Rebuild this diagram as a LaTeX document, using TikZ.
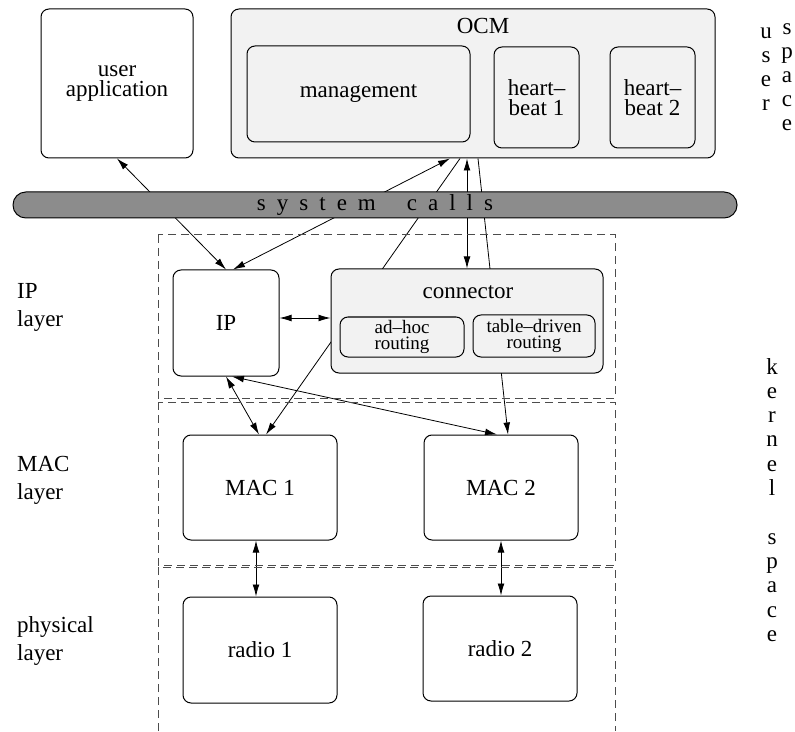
\documentclass[tikz,border=0pt]{standalone}
\usepackage{fontspec}
\setmainfont{Liberation Serif}
\usetikzlibrary{arrows.meta,backgrounds}
\definecolor{ocmgray}{gray}{0.95}
\definecolor{bargray}{gray}{0.55}
\tikzset{
  unit/.style={draw, rounded corners=4pt, inner sep=0pt, align=center, font=\fontsize{11.5}{10}\selectfont},
  subunit/.style={unit, fill=ocmgray, font=\fontsize{9.5}{8}\selectfont},
  layerbox/.style={draw=black!70, dash pattern=on 4pt off 2.5pt},
  side/.style={anchor=west, align=left, font=\fontsize{11.5}{14}\selectfont},
  letter/.style={anchor=base, inner sep=0pt},
}
\begin{document}
\begin{tikzpicture}[x=0.5pt,y=-0.5pt,line width=0.5pt,>={Latex[length=6pt,width=3.4pt]},font=\fontsize{11.5}{14}\selectfont]
    \useasboundingbox (0,0) rectangle (795,731);
    % user space
    \node[unit, minimum width=76pt, minimum height=74.5pt] (app) at (117,83.5) {user\\application};
    \node[unit, fill=ocmgray, minimum width=242pt, minimum height=74.5pt] (ocm) at (473,83.5) {};
    \node (ocmtitle) at (483,26) {OCM};
    \node[unit, fill=ocmgray, minimum width=111.5pt, minimum height=48pt] (mgmt) at (358.5,94) {management};
    \node[unit, fill=ocmgray, minimum width=42.5pt, minimum height=50.5pt] (hb1) at (536.5,97.5) {heart--\\beat 1};
    \node[unit, fill=ocmgray, minimum width=42.5pt, minimum height=50.5pt] (hb2) at (652.5,97.5) {heart--\\beat 2};
    % system calls
    \node[draw, fill=bargray, rounded corners=6.4pt, minimum width=362pt, minimum height=13pt, inner sep=0pt] (sys) at (375,205)
        {{\spaceskip=5.5pt s y s t e m\hspace{10pt} c a l l s}};
    % kernel space
    \node[unit, minimum width=53pt, minimum height=53pt] (ip) at (226,323) {IP};
    \node[unit, fill=ocmgray, minimum width=136pt, minimum height=52pt] (conn) at (467,321) {};
    \node (conntitle) at (468,292) {connector};
    \node[subunit, minimum width=62pt, minimum height=20pt] (adhoc) at (402,337) {ad--hoc\\routing};
    \node[subunit, minimum width=61pt, minimum height=21pt] (table) at (534,336) {table--driven\\routing};
    \node[unit, minimum width=77pt, minimum height=52.5pt] (mac1) at (260,487.5) {MAC 1};
    \node[unit, minimum width=77pt, minimum height=52.5pt] (mac2) at (501,487.5) {MAC 2};
    \node[unit, minimum width=77pt, minimum height=53pt] (radio1) at (260,650) {radio 1};
    \node[unit, minimum width=77pt, minimum height=52.5pt] (radio2) at (500,648.5) {radio 2};
    % layers
    \draw[layerbox] (158,235) rectangle (615,398);
    \draw[layerbox] (158,402) rectangle (615,565);
    \draw[layerbox] (158,731) |- (615,567) -- (615,731);
    \node[side] (iplbl) at (10,307) {IP\\layer};
    \node[side] (maclbl) at (10,480) {MAC\\layer};
    \node[side] (phylbl) at (10,641) {physical\\layer};
    % side words
    \foreach \c [count=\i] in {u,s,e,r}
        \node[letter] (user\i) at (766,15+24*\i) {\c};
    \foreach \c [count=\i] in {s,p,a,c,e}
        \node[letter] (space\i) at (787,11+24*\i) {\c};
    \foreach \c/\j in {k/0,e/1,r/2,n/3,e/4,l/5,s/7,p/8,a/9,c/10,e/11}
        \node[letter] (kernel\j) at (772,374+24.3*\j) {\c};
    % connectors
    \coordinate (ipport) at ([yshift=2.5pt]ip.east);
    \coordinate (mac1port) at ([xshift=-2pt]mac1.south);
    \begin{scope}[on background layer]
        \draw[<->] (ip.north) -- (app.south);
        \draw[<->] ([xshift=3.5pt]ip.north) -- ([xshift=-11.5pt]ocm.south);
        \draw[->] ([xshift=-6.5pt]ocm.south) -- ([xshift=3pt]mac1.north);
        \draw[<->] (conn.north) -- (conn.north |- ocm.south);
        \draw[->] ([xshift=2.5pt]ocm.south) -- ([xshift=3.5pt]mac2.north);
        \draw[<->] (ipport) -- (ipport -| conn.west);
        \draw[<->] (ip.south) -- ([xshift=-0.5pt]mac1.north);
        \draw[<->] ([xshift=3pt]ip.south) -- ([xshift=-2pt]mac2.north);
        \draw[<->] (mac1port) -- (mac1port |- radio1.north);
        \draw[<->] (mac2.south) -- (mac2.south |- radio2.north);
    \end{scope}
\end{tikzpicture}
\end{document}
